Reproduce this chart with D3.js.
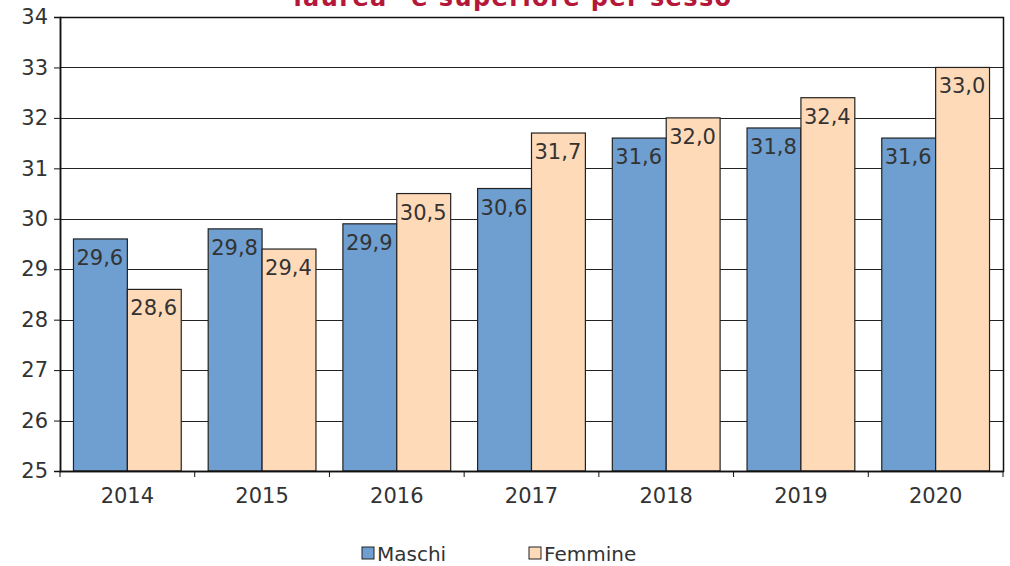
<!DOCTYPE html>
<html>
<head>
<meta charset="utf-8">
<script src="https://cdn.jsdelivr.net/npm/d3@7"></script>
<style>
  body { margin: 0; background: #fff; }
  svg { display: block; font-family: Verdana, "DejaVu Sans", sans-serif; }
</style>
</head>
<body>
<div id="chart"></div>
<script>
// data
const years = ["2014", "2015", "2016", "2017", "2018", "2019", "2020"];
const maschi = [29.6, 29.8, 29.9, 30.6, 31.6, 31.8, 31.6];
const femmine = [28.6, 29.4, 30.5, 31.7, 32.0, 32.4, 33.0];
const seriesNames = ["Maschi", "Femmine"];
const seriesColors = ["#6e9fd0", "#ffdab8"];
const yTicks = [25, 26, 27, 28, 29, 30, 31, 32, 33, 34];

const width = 1010, height = 566;
const margin = { top: 17, right: 7, bottom: 95, left: 60 };
const innerW = width - margin.left - margin.right;
const innerH = height - margin.top - margin.bottom;

const svg = d3.select("#chart").append("svg")
  .attr("width", width)
  .attr("height", height);

// title (its upper part falls outside the picture, as in the original)
svg.append("text")
  .attr("x", 513)
  .attr("y", 6)
  .attr("text-anchor", "middle")
  .attr("font-size", "24px")
  .attr("font-weight", "bold")
  .attr("letter-spacing", "1.4px")
  .attr("fill", "#b5173a")
  .text("laurea\" e superiore per sesso");

const chart = svg.append("g")
  .attr("transform", `translate(${margin.left},${margin.top})`);

const x0 = d3.scaleBand().domain(years).range([0, innerW]).paddingInner(0.2).paddingOuter(0.1);
const x1 = d3.scaleBand().domain(seriesNames).range([0, x0.bandwidth()]);
const y = d3.scaleLinear().domain([25, 34]).range([innerH, 0]);

// horizontal gridlines
chart.selectAll(".grid")
  .data(yTicks)
  .join("line")
  .attr("class", "grid")
  .attr("x1", 0).attr("x2", innerW)
  .attr("y1", d => Math.round(y(d)) + 0.5)
  .attr("y2", d => Math.round(y(d)) + 0.5)
  .attr("stroke", "#222")
  .attr("stroke-width", 1);

const rows = years.map((yr, i) => ({ year: yr, values: [maschi[i], femmine[i]] }));

const groups = chart.selectAll(".year")
  .data(rows)
  .join("g")
  .attr("class", "year")
  .attr("transform", d => `translate(${x0(d.year)},0)`);

const bars = groups.selectAll(".bar")
  .data(d => d.values.map((v, j) => ({ name: seriesNames[j], value: v, idx: j })))
  .join("g")
  .attr("class", "bar");

bars.append("rect")
  .attr("x", d => x1(d.name))
  .attr("y", d => y(d.value))
  .attr("width", x1.bandwidth())
  .attr("height", d => innerH - y(d.value))
  .attr("fill", d => seriesColors[d.idx])
  .attr("stroke", "#222")
  .attr("stroke-width", 1.2);

bars.append("text")
  .attr("x", d => x1(d.name) + 3)
  .attr("y", d => y(d.value) + 26)
  .attr("font-size", "21px")
  .attr("fill", "#333")
  .text(d => d3.format(".1f")(d.value).replace(".", ","));

// frame
chart.append("rect")
  .attr("x", 0.5).attr("y", 0.5)
  .attr("width", innerW).attr("height", innerH)
  .attr("fill", "none")
  .attr("stroke", "#111")
  .attr("stroke-width", 1.5);

// y axis
const yAxis = chart.append("g")
  .call(d3.axisLeft(y).tickValues(yTicks).tickSize(6).tickPadding(6).tickFormat(d3.format("d")));
yAxis.select(".domain").attr("stroke", "#111").attr("stroke-width", 1.5);
yAxis.selectAll(".tick line").attr("stroke", "#111");
yAxis.selectAll("text").attr("font-size", "21px").attr("fill", "#333")
  .attr("font-family", "Verdana, 'DejaVu Sans', sans-serif");

// x axis: ticks at band boundaries
const xAxis = chart.append("g").attr("transform", `translate(0,${innerH})`);
const boundaries = d3.range(years.length + 1).map(i => i * innerW / years.length);
xAxis.selectAll(".xtick")
  .data(boundaries)
  .join("line")
  .attr("x1", d => d).attr("x2", d => d)
  .attr("y1", 0).attr("y2", 6)
  .attr("stroke", "#111");
xAxis.append("line")
  .attr("x1", 0).attr("x2", innerW)
  .attr("y1", 0.5).attr("y2", 0.5)
  .attr("stroke", "#111").attr("stroke-width", 1.5);
xAxis.selectAll(".xlabel")
  .data(years)
  .join("text")
  .attr("class", "xlabel")
  .attr("x", d => x0(d) + x0.bandwidth() / 2)
  .attr("y", 32)
  .attr("text-anchor", "middle")
  .attr("font-size", "21px")
  .attr("fill", "#333")
  .text(d => d);

// legend
const legendX = [362, 529];
const legend = svg.append("g").attr("class", "legend");
const items = legend.selectAll("g")
  .data(seriesNames)
  .join("g")
  .attr("transform", (d, i) => `translate(${legendX[i]},547)`);
items.append("rect")
  .attr("width", 12).attr("height", 12)
  .attr("fill", (d, i) => seriesColors[i])
  .attr("stroke", "#222");
items.append("text")
  .attr("x", 15)
  .attr("y", 14)
  .attr("font-size", "20px")
  .attr("fill", "#333")
  .text(d => d);
</script>
</body>
</html>
